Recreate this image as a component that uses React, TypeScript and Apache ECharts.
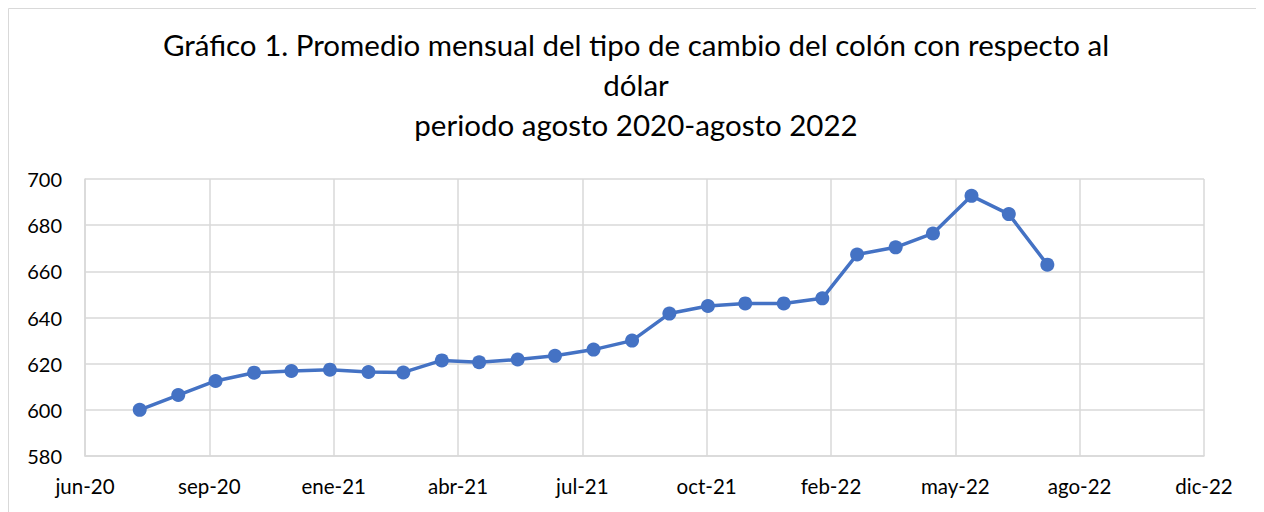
import React, { useEffect, useRef } from "react";
import * as echarts from "echarts";

// Monthly dates (first of month) and average exchange rate (colones per USD)
const months: string[] = [
  "2020-08", "2020-09", "2020-10", "2020-11", "2020-12",
  "2021-01", "2021-02", "2021-03", "2021-04", "2021-05", "2021-06", "2021-07",
  "2021-08", "2021-09", "2021-10", "2021-11", "2021-12",
  "2022-01", "2022-02", "2022-03", "2022-04", "2022-05", "2022-06", "2022-07", "2022-08",
];
const rates: number[] = [
  600.0, 606.4, 612.5, 616.1, 616.8,
  617.4, 616.4, 616.2, 621.4, 620.6, 621.8, 623.4,
  626.1, 630.0, 641.7, 645.0, 646.1,
  646.1, 648.3, 667.3, 670.4, 676.4, 692.7, 684.8, 662.9,
];
const monthNames: string[] = ["ene", "feb", "mar", "abr", "may", "jun", "jul", "ago", "sep", "oct", "nov", "dic"];
const titleLines: string[] = [
  "Gráfico 1. Promedio mensual del tipo de cambio del colón con respecto al",
  "dólar",
  "periodo agosto 2020-agosto 2022",
];
// Axis settings (Excel serial dates)
const xMin = 44000;
const xMax = 44900;
const xStep = 100;
const yMin = 580;
const yMax = 700;
const yStep = 20;

const EXCEL_EPOCH = Date.UTC(1899, 11, 30);
const toSerial = (ym: string) => {
  const [y, m] = ym.split("-").map(Number);
  return Math.round((Date.UTC(y, m - 1, 1) - EXCEL_EPOCH) / 86400000);
};
const serialLabel = (s: number) => {
  const d = new Date(EXCEL_EPOCH + s * 86400000);
  return monthNames[d.getUTCMonth()] + "-" + String(d.getUTCFullYear()).slice(2);
};

export default function App() {
  const ref = useRef<HTMLDivElement>(null);
  useEffect(() => {
    document.documentElement.style.overflow = "hidden";
    document.body.style.overflow = "hidden";
    const chart = echarts.init(ref.current!, null, { renderer: "svg" });
    const font = "Lato, 'Open Sans', sans-serif";
    chart.setOption({
      animation: false,
      backgroundColor: "#fff",
      title: titleLines.map((t, i) => ({
        text: t,
        left: "center",
        top: 21 + i * 40,
        padding: 0,
        textStyle: {
          fontFamily: font,
          fontSize: 29.5,
          fontWeight: "normal",
          color: "#000",
        },
      })),
      graphic: [
        {
          type: "rect",
          shape: { x: 0.5, y: 0.5, width: 1254, height: 540 },
          style: { fill: "none", stroke: "#d9d9d9", lineWidth: 1 },
          silent: true,
        },
      ],
      grid: { left: 77, right: 60, top: 171, bottom: 56, containLabel: false },
      xAxis: {
        type: "value",
        min: xMin,
        max: xMax,
        interval: xStep,
        axisLine: { show: true, lineStyle: { color: "#d9d9d9", width: 1.5 } },
        axisTick: { show: false },
        splitLine: { show: true, lineStyle: { color: "#d9d9d9", width: 1.5 } },
        axisLabel: {
          formatter: (v: number) => serialLabel(v),
          fontFamily: font,
          fontSize: 20.5,
          color: "#000",
          margin: 19,
          showMinLabel: true,
          showMaxLabel: true,
        },
      },
      yAxis: {
        type: "value",
        min: yMin,
        max: yMax,
        interval: yStep,
        axisLine: { show: true, lineStyle: { color: "#d9d9d9", width: 1.5 } },
        axisTick: { show: false },
        splitLine: { show: true, lineStyle: { color: "#d9d9d9", width: 1.5 } },
        axisLabel: {
          fontFamily: font,
          fontSize: 20,
          color: "#000",
          margin: 23,
        },
      },
      series: [
        {
          type: "line",
          data: months.map((m, i) => [toSerial(m), rates[i]]),
          symbol: "circle",
          symbolSize: 14,
          lineStyle: { color: "#4472C4", width: 3.5 },
          itemStyle: { color: "#4472C4" },
          z: 3,
        },
      ],
    });
    return () => chart.dispose();
  }, []);
  return <div ref={ref} style={{ width: 1256, height: 504 }} />;
}
